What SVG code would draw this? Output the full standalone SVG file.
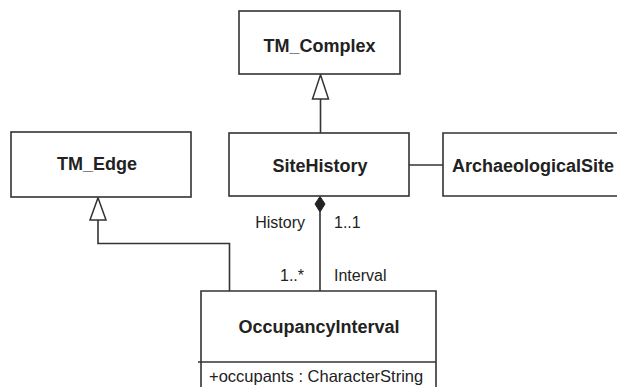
<svg xmlns="http://www.w3.org/2000/svg" width="617" height="387" viewBox="0 0 617 387">
<style>
.box{fill:#fff;stroke:#333;stroke-width:1.6}
.ln{fill:none;stroke:#333;stroke-width:1.6}
.t{font-family:"Liberation Sans",Arial,sans-serif;font-weight:bold;font-size:18px;fill:#222}
.l{font-family:"Liberation Sans",Arial,sans-serif;font-size:16px;fill:#222}
</style>
<defs>
<marker id="gen" markerWidth="18" markerHeight="26" refX="8" refY="1" orient="auto-start-reverse" markerUnits="userSpaceOnUse" viewBox="0 0 18 26">
<path d="M8 1 L16 25 L0 25 Z" fill="#fff" stroke="#333" stroke-width="1.4"/>
</marker>
</defs>
<rect width="617" height="387" fill="#fff"/>
<g id="connectors">
<path class="ln" d="M320.5 99 V133"/>
<path d="M320.5 74.8 L328.5 99 L312.5 99 Z" fill="#fff" stroke="#333" stroke-width="1.5"/>
<path class="ln" d="M98 220 V243.5 H229.5 V291"/>
<path d="M98 197.8 L106 220 L90 220 Z" fill="#fff" stroke="#333" stroke-width="1.5"/>
<path class="ln" d="M409 165 H443"/>
<path class="ln" d="M320 212 V291"/>
<path d="M320 196.5 L325 204 L320 212 L315 204 Z" fill="#222" stroke="#222" stroke-width="1"/>
<text class="l" x="305" y="228" text-anchor="end">History</text>
<text class="l" x="334" y="228">1..1</text>
<text class="l" x="304" y="281" text-anchor="end">1..*</text>
<text class="l" x="334" y="281">Interval</text>
</g>
<g id="TM_Complex">
<rect class="box" x="239" y="11" width="161" height="63"/>
<text class="t" x="319.5" y="52" text-anchor="middle">TM_Complex</text>
</g>
<g id="TM_Edge">
<rect class="box" x="11" y="132" width="180" height="65"/>
<text class="t" x="97" y="170" text-anchor="middle">TM_Edge</text>
</g>
<g id="SiteHistory">
<rect class="box" x="229" y="133" width="180" height="63"/>
<text class="t" x="320" y="172" text-anchor="middle">SiteHistory</text>
</g>
<g id="ArchaeologicalSite">
<path class="box" d="M625 133 H443 V196 H625"/>
<text class="t" x="452" y="172">ArchaeologicalSite</text>
</g>
<g id="OccupancyInterval">
<path class="box" d="M201 395 V291 H436 V395"/>
<path class="ln" d="M198 362 H436"/>
<text class="t" x="319" y="333" text-anchor="middle">OccupancyInterval</text>
<text class="l" x="209" y="382" style="font-size:16.5px">+occupants : CharacterString</text>
</g>
</svg>
